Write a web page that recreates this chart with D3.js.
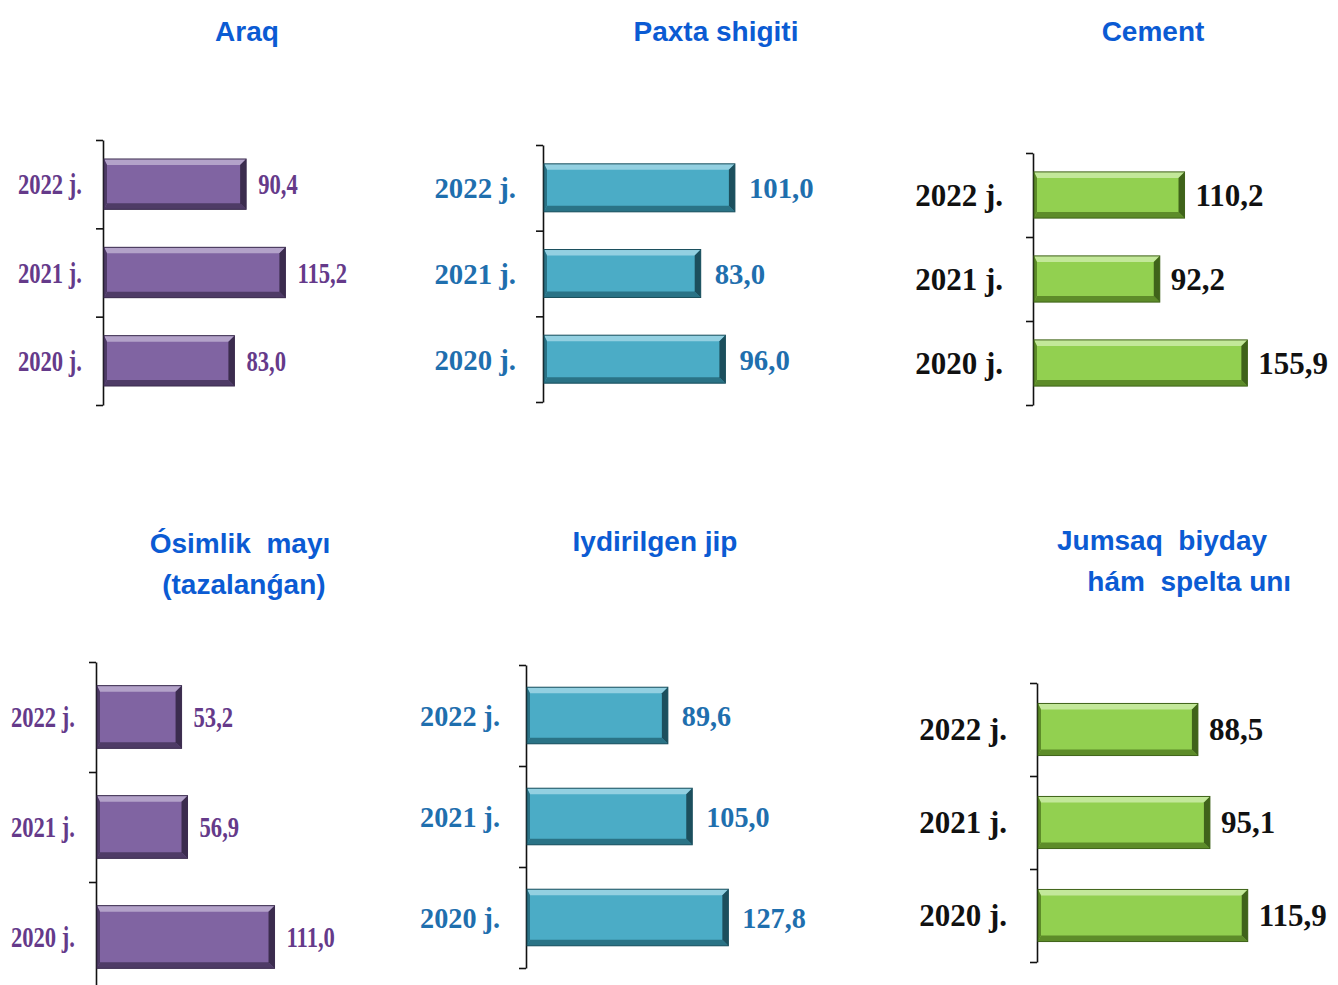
<!DOCTYPE html>
<html>
<head>
<meta charset="utf-8">
<script src="https://cdn.jsdelivr.net/npm/d3@7"></script>
<style>
  body { margin: 0; background: #fff; }
  svg { display: block; }
  .title { font-family: "Liberation Sans", Arial, sans-serif; font-weight: bold; fill: #0b5bd3; }
</style>
</head>
<body>
<svg id="chart" width="1338" height="985"></svg>
<script>
// categories (top to bottom)
const years = ["2022 j.", "2021 j.", "2020 j."]

// series values, same order as years
const araq = [90.4, 115.2, 83.0]
const paxta = [101.0, 83.0, 96.0]
const cement = [110.2, 92.2, 155.9]
const osimlik = [53.2, 56.9, 111.0]
const jip = [89.6, 105.0, 127.8]
const biyday = [88.5, 95.1, 115.9]

// titles
const titles = [
    ["Araq"],
    ["Paxta shigiti"],
    ["Cement"],
    ["Ósimlik  mayı", " (tazalanǵan)"],
    ["Iydirilgen jip"],
    ["Jumsaq  biyday", "       hám  spelta unı"]
]

const palettes = {
    purple: { base: "#8064a2", light: "#b3a2c9", dark: "#4e3b66", side: "#3b2c4e", text: "#653a8a" },
    teal:   { base: "#4bacc6", light: "#93d0e1", dark: "#2a7386", side: "#1c4f5d", text: "#1f6fae" },
    green:  { base: "#92d050", light: "#c3e89a", dark: "#5d8c29", side: "#3f631a", text: "#111" }
}

const svgContainer = d3.select("#chart")
const fmt = v => d3.format(".1f")(v).replace(".", ",")

const panels = [
    { values: araq, title: titles[0], tx: 247, ty: 41, pal: "purple", x0: 103, w: 190, max: 120, top: 140, bottom: 405, pad: 0.43, lab: 21, gap: 12, fs: 29, sx: 0.78, bold: true },
    { values: paxta, title: titles[1], tx: 716, ty: 41, pal: "teal", x0: 543, w: 190, max: 100, top: 145, bottom: 402, pad: 0.44, lab: 27, gap: 14, fs: 30, sx: 0.96, bold: true },
    { values: cement, title: titles[2], tx: 1153, ty: 41, pal: "green", x0: 1033, w: 220, max: 160, top: 153, bottom: 405, pad: 0.45, lab: 30, gap: 11, fs: 31, sx: 1, bold: true },
    { values: osimlik, title: titles[3], tx: 240, ty: 553, pal: "purple", x0: 96, w: 193, max: 120, top: 662, bottom: 992, pad: 0.43, lab: 21, gap: 12, fs: 29, sx: 0.78, bold: true },
    { values: jip, title: titles[4], tx: 655, ty: 551, pal: "teal", x0: 526, w: 190, max: 120, top: 665, bottom: 968, pad: 0.44, lab: 26, gap: 14, fs: 30, sx: 0.94, bold: true },
    { values: biyday, title: titles[5], tx: 1162, ty: 550, pal: "green", x0: 1037, w: 200, max: 110, top: 683, bottom: 962, pad: 0.44, lab: 30, gap: 11, fs: 31, sx: 1, bold: true }
]

panels.forEach(drawPanel)

function drawPanel(p) {
    const pal = palettes[p.pal]
    const g = svgContainer.append("g")

    // title lines
    g.selectAll("text.title")
        .data(p.title)
        .enter()
        .append("text")
        .attr("class", "title")
        .attr("x", p.tx)
        .attr("y", (d, i) => p.ty + i * 41)
        .attr("text-anchor", "middle")
        .attr("font-size", 28)
        .style("white-space", "pre")
        .text(d => d)

    const x = d3.scaleLinear().domain([0, p.max]).range([p.x0, p.x0 + p.w])
    const y = d3.scaleBand()
        .domain(years)
        .range([p.top, p.bottom])
        .paddingInner(p.pad)
        .paddingOuter(p.pad / 2)
    const step = y.step()

    // axis: ticks sit on the category boundaries
    const yTicks = d3.scaleLinear().domain([0, years.length]).range([p.top, p.top + step * years.length])
    g.append("g")
        .attr("transform", `translate(${p.x0},0)`)
        .call(d3.axisLeft(yTicks).tickValues(d3.range(years.length + 1)).tickSize(7).tickSizeOuter(0).tickFormat(""))
        .call(a => a.selectAll("line, path").attr("stroke", "#111").attr("stroke-width", 1.6))

    const b = 6
    const bars = g.selectAll("g.bar")
        .data(p.values.map((v, i) => ({ v, year: years[i] })))
        .enter()
        .append("g")
        .attr("class", "bar")

    bars.each(function (d) {
        const s = d3.select(this)
        const x0 = x(0) + 1, x1 = x(d.v)
        const y0 = y(d.year), y1 = y0 + y.bandwidth()
        s.append("rect")
            .attr("x", x0).attr("y", y0)
            .attr("width", x1 - x0).attr("height", y1 - y0)
            .attr("fill", pal.base)
        const poly = (pts, fill) => s.append("polygon")
            .attr("points", pts.map(q => q.join(",")).join(" "))
            .attr("fill", fill)
        poly([[x0, y0], [x1, y0], [x1 - b, y0 + b], [x0 + 3, y0 + b]], pal.light)
        poly([[x0, y1], [x1, y1], [x1 - b, y1 - b], [x0 + 3, y1 - b]], pal.dark)
        poly([[x1, y0], [x1, y1], [x1 - b, y1 - b], [x1 - b, y0 + b]], pal.side)
        poly([[x0, y0], [x0, y1], [x0 + 3, y1 - b], [x0 + 3, y0 + b]], pal.dark)
        s.append("rect")
            .attr("x", x0).attr("y", y0)
            .attr("width", x1 - x0).attr("height", y1 - y0)
            .attr("fill", "none").attr("stroke", pal.side).attr("stroke-width", 1)
    })

    const label = (sel, anchor) => sel
        .attr("text-anchor", anchor)
        .attr("dy", "0.35em")
        .attr("font-family", "'Liberation Serif', 'Times New Roman', serif")
        .attr("font-size", p.fs)
        .attr("font-weight", p.bold ? "bold" : "normal")
        .attr("fill", pal.text)

    // year labels (narrowed a little, like the original condensed type)
    g.selectAll("text.year")
        .data(years)
        .enter()
        .append("text")
        .attr("class", "year")
        .attr("transform", d => `translate(${p.x0 - p.lab},${y(d) + y.bandwidth() / 2}) scale(${p.sx},1)`)
        .call(label, "end")
        .text(d => d)

    // value labels
    g.selectAll("text.val")
        .data(p.values)
        .enter()
        .append("text")
        .attr("class", "val")
        .attr("transform", (d, i) => `translate(${x(d) + p.gap},${y(years[i]) + y.bandwidth() / 2}) scale(${p.sx},1)`)
        .call(label, "start")
        .text(d => fmt(d))
}
</script>
</body>
</html>
